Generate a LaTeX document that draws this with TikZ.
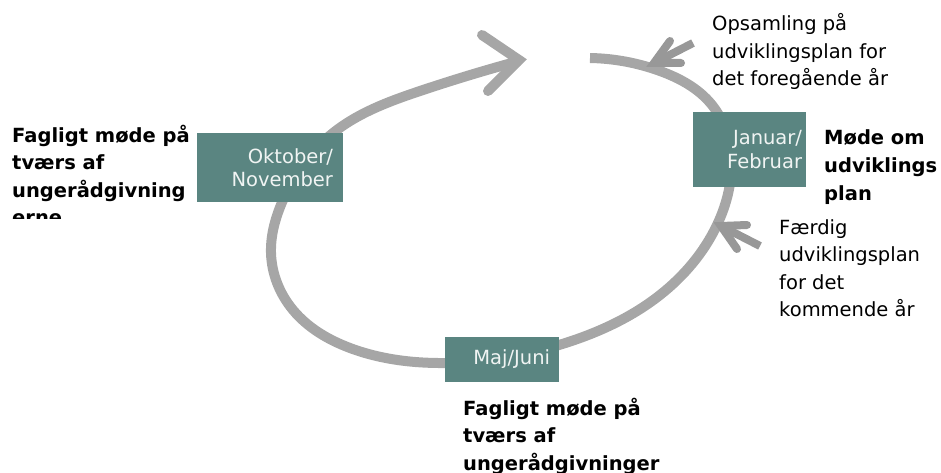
\documentclass[tikz,border=0pt]{standalone}
\usepackage{fontspec}
\setmainfont{DejaVu Sans}
\usetikzlibrary{hobby}
\definecolor{boxteal}{RGB}{90,133,129}
\definecolor{boxtext}{RGB}{240,244,243}
\definecolor{loopgray}{RGB}{166,166,166}
\definecolor{pointgray}{RGB}{152,152,152}
\begin{document}
\begin{tikzpicture}[x=1pt,y=-1pt,
  box/.style={fill=boxteal, text=boxtext, inner ysep=0pt, align=right,
    font=\fontsize{19.5}{23.5}\selectfont},
  lbl/.style={anchor=base west, inner sep=0pt, align=left,
    font=\fontsize{19.5}{27.5}\selectfont},
  boldlbl/.style={lbl, font=\fontsize{19.5}{27.5}\selectfont\bfseries},
  loopline/.style={draw=loopgray, line width=10pt},
  pointer/.style={draw=pointgray, line width=8pt}]
\useasboundingbox (0,0) rectangle (941,473);
% the cycle
\coordinate (loopstart) at (590,58);
\coordinate (loopend) at (519,61);
\draw[loopline, line cap=butt] (loopstart) to[curve through={
 (660,71) (712,105) (731,155) (717,225) (660,295) (559,345) (445,363)
 (350,348) (293,310) (271,253) (283,200) (333,133) (420,91)}] (loopend);
\coordinate (headtip) at (519,60);
\coordinate (headup) at (482,35);
\coordinate (headdown) at (488,91);
\draw[loopline, line cap=round, line join=miter] (headup) -- (headtip) -- (headdown);
% small pointers
\coordinate (p1tail) at (693,43);
\coordinate (p1tip) at (654,63);
\coordinate (p1a) at (670,41);
\coordinate (p1b) at (681,63);
\draw[pointer, line cap=butt] (p1tail) -- (p1tip);
\draw[pointer, line cap=round, line join=miter] (p1a) -- (p1tip) -- (p1b);
\coordinate (p2tail) at (760,246);
\coordinate (p2tip) at (721,226);
\coordinate (p2a) at (747,225);
\coordinate (p2b) at (737,249);
\draw[pointer, line cap=butt] (p2tail) -- (p2tip);
\draw[pointer, line cap=round, line join=miter] (p2a) -- (p2tip) -- (p2b);
% boxes
\node[box, minimum width=146, minimum height=69, text width=126, inner xsep=10] (okt) at (270,167.5) {Oktober/\\November};
\node[box, minimum width=113, minimum height=75, text width=105, inner xsep=4] (jan) at (749.5,149.5) {Januar/\\Februar};
\node[box, minimum width=114, minimum height=45, text width=96, inner xsep=9] (maj) at (502,359.5) {Maj/Juni};
% labels (anchor is the baseline of the last line)
\begin{scope}
\clip (0,0) rectangle (196,218);
\node[boldlbl] (oktlbl) at (12,224.5) {Fagligt møde på\\tværs af\\ungerådgivning\\erne};
\end{scope}
\node[boldlbl] (janlbl) at (824,200) {Møde om\\udviklings\\plan};
\node[boldlbl] (majlbl) at (463,470) {Fagligt møde på\\tværs af\\ungerådgivninger};
\node[lbl] (opsam) at (712,86) {Opsamling på\\udviklingsplan for\\det foregående år};
\node[lbl] (faerdig) at (779,316.5) {Færdig\\udviklingsplan\\for det\\kommende år};
\end{tikzpicture}
\end{document}
